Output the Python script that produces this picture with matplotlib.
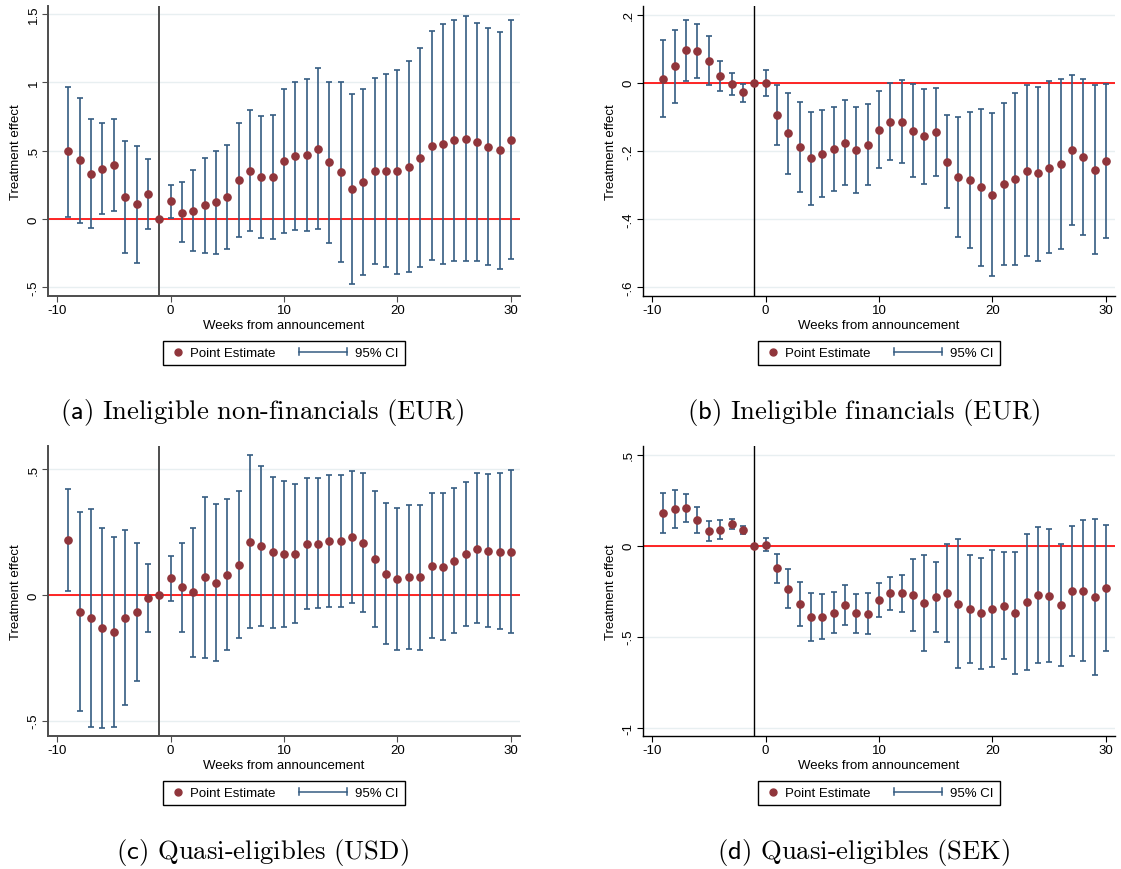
import numpy as np
import matplotlib
matplotlib.use("Agg")
import matplotlib.pyplot as plt
from matplotlib.lines import Line2D
from matplotlib.legend_handler import HandlerBase
from matplotlib.ticker import FuncFormatter

plt.rcParams['font.family'] = ['Liberation Sans', 'DejaVu Sans']
plt.rcParams['mathtext.fontset'] = 'cm'

# weeks from announcement
weeks = list(range(-9, 31))

# (a) Ineligible non-financials (EUR)
a_pt = [0.50, 0.434, 0.33, 0.37, 0.395, 0.16, 0.107, 0.185, 0.0,
        0.13, 0.046, 0.06, 0.10, 0.122, 0.16, 0.285, 0.354, 0.307, 0.307,
        0.424, 0.459, 0.466, 0.515, 0.417, 0.344, 0.22, 0.27, 0.349, 0.354,
        0.349, 0.38, 0.446, 0.537, 0.549, 0.576, 0.59, 0.563, 0.529, 0.505, 0.58]
a_lo = [0.015, -0.027, -0.063, 0.04, 0.06, -0.25, -0.32, -0.07, 0.0,
        0.01, -0.17, -0.237, -0.25, -0.256, -0.222, -0.134, -0.09, -0.14, -0.144,
        -0.10, -0.083, -0.09, -0.073, -0.173, -0.315, -0.478, -0.41, -0.33, -0.35,
        -0.40, -0.39, -0.354, -0.30, -0.327, -0.31, -0.31, -0.31, -0.334, -0.363, -0.29]
a_hi = [0.97, 0.89, 0.73, 0.70, 0.73, 0.57, 0.534, 0.44, 0.0,
        0.25, 0.27, 0.363, 0.45, 0.50, 0.546, 0.707, 0.80, 0.754, 0.763,
        0.954, 1.0, 1.022, 1.107, 1.005, 1.0, 0.915, 0.954, 1.03, 1.059,
        1.093, 1.156, 1.25, 1.376, 1.427, 1.461, 1.488, 1.434, 1.40, 1.373, 1.454]

# (b) Ineligible financials (EUR)
b_pt = [0.012, 0.048, 0.095, 0.093, 0.065, 0.02, -0.004, -0.028, 0.0,
        0.0, -0.094, -0.148, -0.187, -0.221, -0.209, -0.195, -0.176, -0.197, -0.182,
        -0.138, -0.115, -0.114, -0.141, -0.156, -0.144, -0.231, -0.277, -0.286, -0.306,
        -0.329, -0.297, -0.282, -0.26, -0.265, -0.25, -0.237, -0.197, -0.218, -0.256, -0.228]
b_lo = [-0.101, -0.06, 0.006, 0.015, -0.006, -0.025, -0.036, -0.055, 0.0,
        -0.038, -0.181, -0.268, -0.319, -0.357, -0.336, -0.318, -0.30, -0.323, -0.301,
        -0.251, -0.227, -0.235, -0.277, -0.296, -0.272, -0.368, -0.452, -0.484, -0.536,
        -0.566, -0.533, -0.534, -0.509, -0.521, -0.50, -0.486, -0.417, -0.446, -0.503, -0.454]
b_hi = [0.125, 0.155, 0.184, 0.172, 0.138, 0.063, 0.028, -0.003, 0.0,
        0.037, -0.008, -0.03, -0.056, -0.086, -0.081, -0.071, -0.051, -0.07, -0.063,
        -0.024, -0.002, 0.009, -0.005, -0.017, -0.015, -0.095, -0.10, -0.087, -0.076,
        -0.09, -0.06, -0.03, -0.008, -0.011, 0.004, 0.012, 0.022, 0.01, -0.008, -0.005]

# (c) Quasi-eligibles (USD)
c_pt = [0.219, -0.068, -0.093, -0.131, -0.147, -0.093, -0.068, -0.013, 0.0,
        0.066, 0.031, 0.011, 0.07, 0.048, 0.081, 0.121, 0.212, 0.195, 0.17,
        0.162, 0.164, 0.203, 0.204, 0.214, 0.216, 0.231, 0.208, 0.143, 0.084,
        0.064, 0.072, 0.07, 0.115, 0.113, 0.137, 0.162, 0.184, 0.176, 0.172, 0.172]
c_lo = [0.015, -0.463, -0.527, -0.528, -0.524, -0.439, -0.341, -0.147, 0.0,
        -0.023, -0.146, -0.245, -0.249, -0.264, -0.219, -0.172, -0.133, -0.123, -0.13,
        -0.127, -0.11, -0.057, -0.05, -0.048, -0.046, -0.032, -0.066, -0.129, -0.195,
        -0.22, -0.216, -0.22, -0.171, -0.179, -0.153, -0.125, -0.11, -0.127, -0.135, -0.15]
c_hi = [0.423, 0.332, 0.343, 0.265, 0.231, 0.257, 0.206, 0.122, 0.0,
        0.155, 0.207, 0.267, 0.39, 0.363, 0.382, 0.415, 0.558, 0.515, 0.469,
        0.454, 0.442, 0.466, 0.464, 0.477, 0.479, 0.493, 0.484, 0.414, 0.365,
        0.347, 0.359, 0.359, 0.404, 0.407, 0.427, 0.448, 0.484, 0.481, 0.484, 0.499]

# (d) Quasi-eligibles (SEK)
d_pt = [0.179, 0.201, 0.207, 0.141, 0.081, 0.088, 0.119, 0.086, 0.0,
        0.005, -0.123, -0.236, -0.32, -0.394, -0.39, -0.368, -0.326, -0.372, -0.374,
        -0.299, -0.262, -0.26, -0.273, -0.315, -0.282, -0.262, -0.319, -0.346, -0.372,
        -0.346, -0.33, -0.37, -0.31, -0.271, -0.275, -0.324, -0.249, -0.249, -0.282, -0.234]
d_lo = [0.071, 0.097, 0.128, 0.07, 0.027, 0.037, 0.09, 0.062, 0.0,
        -0.031, -0.203, -0.342, -0.44, -0.526, -0.513, -0.48, -0.436, -0.478, -0.485,
        -0.39, -0.355, -0.364, -0.471, -0.579, -0.473, -0.531, -0.67, -0.643, -0.676,
        -0.668, -0.625, -0.703, -0.683, -0.643, -0.639, -0.659, -0.604, -0.636, -0.711, -0.581]
d_hi = [0.291, 0.304, 0.284, 0.212, 0.136, 0.141, 0.147, 0.11, 0.0,
        0.042, -0.046, -0.13, -0.2, -0.26, -0.267, -0.255, -0.214, -0.264, -0.262,
        -0.205, -0.17, -0.159, -0.075, -0.051, -0.092, 0.011, 0.037, -0.049, -0.066,
        -0.022, -0.035, -0.035, 0.064, 0.103, 0.09, 0.011, 0.106, 0.139, 0.148, 0.115]

captions = ['(a) Ineligible non-financials (EUR)', '(b) Ineligible financials (EUR)',
            '(c) Quasi-eligibles (USD)', '(d) Quasi-eligibles (SEK)']
yticks = [[-0.5, 0, 0.5, 1, 1.5], [-0.6, -0.4, -0.2, 0, 0.2],
          [-0.5, 0, 0.5], [-1, -0.5, 0, 0.5]]
ylims = [(-0.563, 1.56), (-0.625, 0.225), (-0.561, 0.593), (-1.046, 0.548)]

PT_COL = '#90353b'
CI_COL = '#355c82'

W, H = 1121, 870


def stata_fmt(v, pos=None):
    s = '%g' % round(v, 3)
    if s.startswith('0.'):
        s = s[1:]
    elif s.startswith('-0.'):
        s = '-' + s[2:]
    return s


class DotHandler(HandlerBase):
    def create_artists(self, legend, orig_handle, xd, yd, width, height, fontsize, trans):
        y = (height - yd) / 2
        return [Line2D([width - xd - 3], [y], marker='o', markersize=5, color=PT_COL,
                       linestyle='none', transform=trans)]


class CIHandler(HandlerBase):
    def create_artists(self, legend, orig_handle, xd, yd, width, height, fontsize, trans):
        y = (height - yd) / 2
        x1 = width - xd
        x0 = x1 - 35
        c = 2.3
        return [Line2D([x0, x1], [y, y], color=CI_COL, lw=1.1, transform=trans),
                Line2D([x0, x0], [y - c, y + c], color=CI_COL, lw=1.1, transform=trans),
                Line2D([x1, x1], [y - c, y + c], color=CI_COL, lw=1.1, transform=trans)]


fig = plt.figure(figsize=(W / 100, H / 100), dpi=100)

panels = [(a_pt, a_lo, a_hi), (b_pt, b_lo, b_hi), (c_pt, c_lo, c_hi), (d_pt, d_lo, d_hi)]
# axes boxes in pixels: left, top, right, bottom
boxes = [(48, 7, 520, 297), (643, 7, 1115, 297), (48, 447, 520, 737), (643, 447, 1115, 737)]
cap_x = [262, 864, 262, 864]
# left column panels have greyer, slightly heavier axis lines
axcol = ['#4d4d4d', 'black', '#4d4d4d', 'black']
axlw = [1.4, 1.0, 1.4, 1.0]

for i, (pt, lo, hi) in enumerate(panels):
    l, t, r, b = boxes[i]
    ax = fig.add_axes([l / W, 1 - b / H, (r - l) / W, (b - t) / H])
    x = np.array(weeks)
    pt = np.array(pt)
    lo = np.array(lo)
    hi = np.array(hi)
    m = hi != lo

    for yv in yticks[i]:
        ax.axhline(yv, color='#e8eff1', lw=1.0, zorder=0)
    ax.axhline(0, color='red', lw=1.2, zorder=1)
    ax.axvline(-1, color=axcol[i], lw=axlw[i], zorder=1)
    ax.errorbar(x[m], pt[m], yerr=[pt[m] - lo[m], hi[m] - pt[m]], fmt='none',
                ecolor=CI_COL, elinewidth=1.2, capsize=2.4, capthick=1.2, zorder=2)
    ax.plot(x, pt, 'o', color=PT_COL, markersize=5.2, zorder=3)

    ax.set_xlim(-10.8, 30.8)
    ax.set_ylim(*ylims[i])
    ax.set_xticks([-10, 0, 10, 20, 30])
    ax.set_yticks(yticks[i])
    ax.xaxis.set_major_formatter(FuncFormatter(stata_fmt))
    ax.yaxis.set_major_formatter(FuncFormatter(stata_fmt))
    ax.tick_params(labelsize=9.5, length=4, width=0.8, pad=2, color=axcol[i])
    for lbl in ax.get_yticklabels():
        lbl.set_rotation(90)
        lbl.set_va('center')
    for s in ['top', 'right']:
        ax.spines[s].set_visible(False)
    for s in ['left', 'bottom']:
        ax.spines[s].set_linewidth(axlw[i])
        ax.spines[s].set_color(axcol[i])
    ax.set_xlabel('Weeks from announcement', fontsize=9.5, labelpad=2)
    ax.set_ylabel('Treatment effect', fontsize=9.5, labelpad=4)

    pt_h = Line2D([], [])
    ci_h = Line2D([], [])
    cx = (l + r) / 2 / W
    cy = 1 - (b + 57) / H
    fig.legend([pt_h, ci_h], ['Point Estimate', '95% CI'], loc='center',
               bbox_to_anchor=(cx, cy), ncol=2, fontsize=9.5, frameon=True,
               fancybox=False, edgecolor='black', framealpha=1,
               handler_map={pt_h: DotHandler(), ci_h: CIHandler()},
               handlelength=1.0, handletextpad=0.6, columnspacing=4.4,
               borderpad=0.45, borderaxespad=0)

    cap = captions[i]
    letter = cap[1]
    fig.text(cap_x[i] / W, 1 - (b + 116) / H,
             r'$(\mathsf{' + letter + r'})$' + cap[3:], family='cmr10',
             fontsize=19.2, ha='center', va='center')

fig.savefig('out.png', dpi=100)
